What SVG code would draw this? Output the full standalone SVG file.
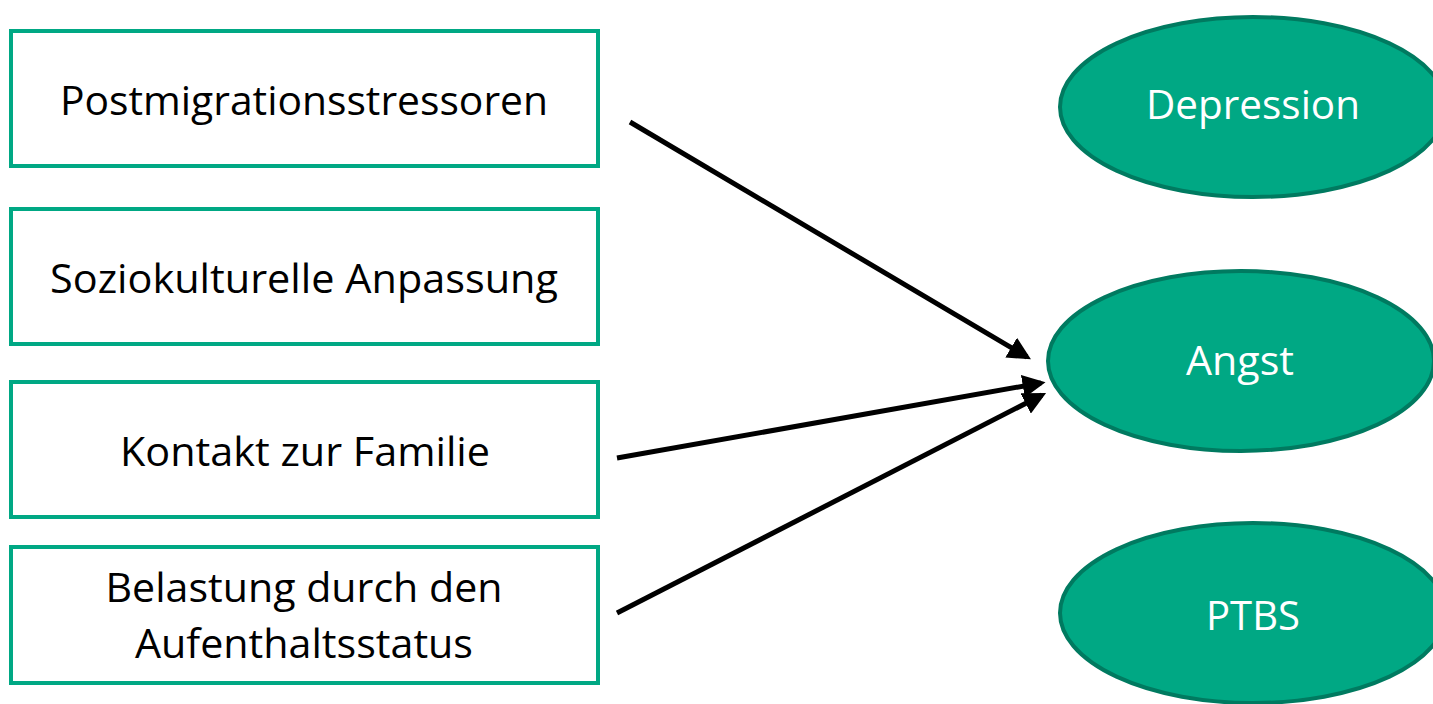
<svg xmlns="http://www.w3.org/2000/svg" width="1433" height="704" viewBox="0 0 1433 704">
<defs>
<style>
.box{fill:#fff;stroke:#00A884;stroke-width:4}
.ell{fill:#00A884;stroke:#007A60;stroke-width:4}
.t{font-family:"Open Sans","Liberation Sans",sans-serif;font-size:41px;text-anchor:middle;fill:#000}
.w{fill:#fff}
.c{stroke:#000;stroke-width:5;fill:none;marker-end:url(#ah)}
</style>
<marker id="ah" viewBox="0 0 10 10" refX="8" refY="5" markerWidth="4.6" markerHeight="4.6" orient="auto" markerUnits="strokeWidth">
<path d="M0,0 L10,5 L0,10 z" fill="#000"/>
</marker>
</defs>
<g id="n-post"><rect class="box" x="11" y="31" width="587" height="135"/><text class="t" x="304" y="115" textLength="488" lengthAdjust="spacingAndGlyphs">Postmigrationsstressoren</text></g>
<g id="n-sozio"><rect class="box" x="11" y="209" width="587" height="135"/><text class="t" x="304" y="293" textLength="508" lengthAdjust="spacingAndGlyphs">Soziokulturelle Anpassung</text></g>
<g id="n-kontakt"><rect class="box" x="11" y="382" width="587" height="135"/><text class="t" x="305" y="466" textLength="370" lengthAdjust="spacingAndGlyphs">Kontakt zur Familie</text></g>
<g id="n-belast"><rect class="box" x="11" y="547" width="587" height="136"/><text class="t" x="304" y="602" textLength="397" lengthAdjust="spacingAndGlyphs">Belastung durch den</text><text class="t" x="304" y="658" textLength="338" lengthAdjust="spacingAndGlyphs">Aufenthaltsstatus</text></g>
<g id="n-depr"><ellipse class="ell" cx="1253" cy="107" rx="193" ry="90"/><text class="t w" x="1253" y="119" textLength="214" lengthAdjust="spacingAndGlyphs">Depression</text></g>
<g id="n-angst"><ellipse class="ell" cx="1241" cy="361" rx="193" ry="90"/><text class="t w" x="1240" y="375" textLength="108" lengthAdjust="spacingAndGlyphs">Angst</text></g>
<g id="n-ptbs"><ellipse class="ell" cx="1253" cy="613" rx="193" ry="90"/><text class="t w" x="1253" y="630" textLength="94" lengthAdjust="spacingAndGlyphs">PTBS</text></g>
<g id="connectors">
<line class="c" x1="630" y1="122" x2="1027" y2="357"/>
<line class="c" x1="617" y1="458" x2="1041" y2="383"/>
<line class="c" x1="617" y1="613" x2="1042" y2="395"/>
</g>
</svg>
